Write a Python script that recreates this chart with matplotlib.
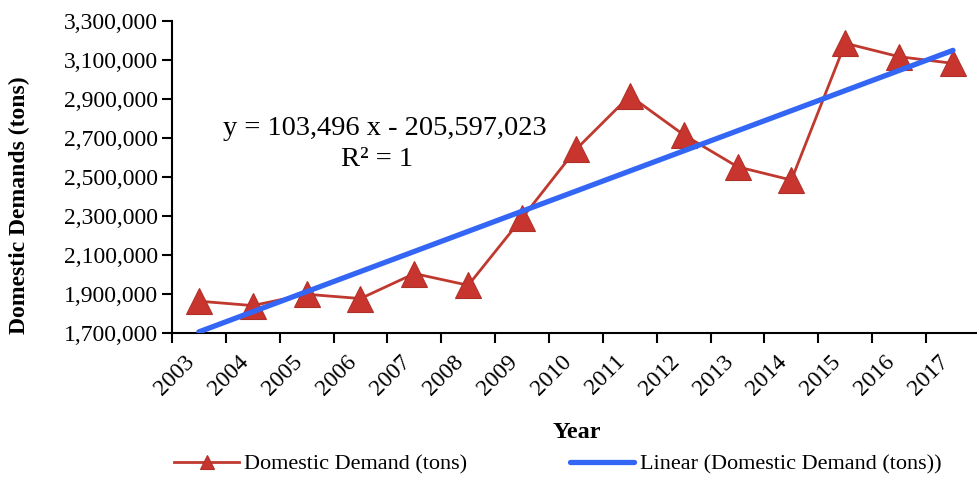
import numpy as np
import matplotlib
matplotlib.use('Agg')
import matplotlib.pyplot as plt
from matplotlib.ticker import StrMethodFormatter, FixedLocator

# Данные
years = ['2003', '2004', '2005', '2006', '2007', '2008', '2009', '2010',
         '2011', '2012', '2013', '2014', '2015', '2016', '2017']
demand = [1862600, 1840000, 1898000, 1876000, 2004000, 1944000, 2288000, 2640000,
          2915000, 2715000, 2551000, 2483000, 3184000, 3115000, 3081000]
equation = 'y = 103,496 x - 205,597,023'
r2_text = 'R² = 1'

plt.rcParams['font.family'] = ['Liberation Serif', 'DejaVu Serif']

x = np.arange(1, len(years) + 1)
slope, intercept = np.polyfit(x, demand, 1)
trend = slope * x + intercept

fig = plt.figure(figsize=(9.77, 4.79), dpi=100)
ax = fig.add_axes([0.176, 0.305, 0.827, 0.652])

ax.plot(x, demand, color='#C0392F', linewidth=2.0, marker='^', markersize=19,
        markerfacecolor='#C8352F', markeredgecolor='#B03028', markeredgewidth=0.8,
        label='Domestic Demand (tons)', zorder=3)
ax.plot([x[0], x[-1]], [trend[0], trend[-1]], color='#3366F5', linewidth=3.8,
        solid_capstyle='round', label='Linear (Domestic Demand (tons))', zorder=4)

ax.set_xlim(0.5, len(years) + 0.5)
ax.set_ylim(1700000, 3300000)
ax.set_yticks(np.arange(1700000, 3300001, 200000))
ax.yaxis.set_major_formatter(StrMethodFormatter('{x:,.0f}'))

# границы категорий - большие деления, подписи - по центру
ax.xaxis.set_major_locator(FixedLocator(np.arange(0.5, len(years) + 1, 1)))
ax.set_xticklabels([])
ax.set_xticks(x, minor=True)
ax.set_xticklabels(years, minor=True, rotation=45, ha='right', va='top')
ax.tick_params(axis='x', which='minor', length=0, pad=13, labelsize=17)
ax.tick_params(axis='x', which='major', length=7, width=1.5, direction='out')
ax.tick_params(axis='y', length=7, width=1.5, direction='out', labelsize=17, pad=3)

for s in ['top', 'right']:
    ax.spines[s].set_visible(False)
for s in ['left', 'bottom']:
    ax.spines[s].set_linewidth(1.5)

ax.set_ylabel('Domestic Demands (tons)', fontsize=17, fontweight='bold')
ax.yaxis.set_label_coords(-0.176, 0.41)
fig.text(0.59, 0.098, 'Year', fontsize=17.5, fontweight='bold', ha='center', va='center')

fig.text(0.394, 0.732, equation, fontsize=20.5, ha='center', va='center')
fig.text(0.386, 0.668, r2_text, fontsize=20.5, ha='center', va='center')

fig.legend(loc='center', bbox_to_anchor=(0.571, 0.03), ncol=2, frameon=False,
           fontsize=16, columnspacing=4.6, handlelength=2.9, markerscale=0.55,
           handletextpad=0.25)

plt.savefig('out.png', dpi=100)
